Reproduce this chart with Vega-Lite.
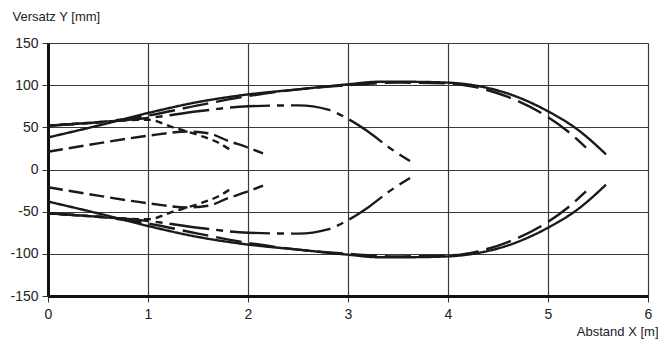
{
  "$schema": "https://vega.github.io/schema/vega-lite/v6.json",
  "width": 600,
  "height": 253,
  "autosize": {"type": "none"},
  "padding": {"left": 48, "top": 43, "right": 10, "bottom": 45},
  "background": "white",
  "config": {
    "view": {"stroke": null},
    "font": "Liberation Sans"
  },
  "data": {
    "values": [
      {"s": "A", "p": "u", "x": 0, "y": 38}, {"s": "A", "p": "u", "x": 0.5, "y": 52}, {"s": "A", "p": "u", "x": 1, "y": 67}, {"s": "A", "p": "u", "x": 1.5, "y": 80}, {"s": "A", "p": "u", "x": 2, "y": 89}, {"s": "A", "p": "u", "x": 2.5, "y": 95}, {"s": "A", "p": "u", "x": 3, "y": 101}, {"s": "A", "p": "u", "x": 3.3, "y": 104}, {"s": "A", "p": "u", "x": 3.6, "y": 104}, {"s": "A", "p": "u", "x": 4, "y": 103}, {"s": "A", "p": "u", "x": 4.3, "y": 99}, {"s": "A", "p": "u", "x": 4.6, "y": 90}, {"s": "A", "p": "u", "x": 5, "y": 69}, {"s": "A", "p": "u", "x": 5.3, "y": 47}, {"s": "A", "p": "u", "x": 5.58, "y": 18},
      {"s": "A", "p": "l", "x": 0, "y": -38}, {"s": "A", "p": "l", "x": 0.5, "y": -52}, {"s": "A", "p": "l", "x": 1, "y": -67}, {"s": "A", "p": "l", "x": 1.5, "y": -80}, {"s": "A", "p": "l", "x": 2, "y": -89}, {"s": "A", "p": "l", "x": 2.5, "y": -95}, {"s": "A", "p": "l", "x": 3, "y": -101}, {"s": "A", "p": "l", "x": 3.3, "y": -104}, {"s": "A", "p": "l", "x": 3.6, "y": -104}, {"s": "A", "p": "l", "x": 4, "y": -103}, {"s": "A", "p": "l", "x": 4.3, "y": -99}, {"s": "A", "p": "l", "x": 4.6, "y": -90}, {"s": "A", "p": "l", "x": 5, "y": -69}, {"s": "A", "p": "l", "x": 5.3, "y": -47}, {"s": "A", "p": "l", "x": 5.58, "y": -18},
      {"s": "B", "p": "u", "x": 0, "y": 52}, {"s": "B", "p": "u", "x": 0.5, "y": 56}, {"s": "B", "p": "u", "x": 1, "y": 64}, {"s": "B", "p": "u", "x": 1.5, "y": 76}, {"s": "B", "p": "u", "x": 2, "y": 87}, {"s": "B", "p": "u", "x": 2.5, "y": 95}, {"s": "B", "p": "u", "x": 3, "y": 100}, {"s": "B", "p": "u", "x": 3.5, "y": 103}, {"s": "B", "p": "u", "x": 4, "y": 102}, {"s": "B", "p": "u", "x": 4.3, "y": 97}, {"s": "B", "p": "u", "x": 4.6, "y": 86}, {"s": "B", "p": "u", "x": 5, "y": 62}, {"s": "B", "p": "u", "x": 5.2, "y": 45}, {"s": "B", "p": "u", "x": 5.38, "y": 26},
      {"s": "B", "p": "l", "x": 0, "y": -52}, {"s": "B", "p": "l", "x": 0.5, "y": -56}, {"s": "B", "p": "l", "x": 1, "y": -64}, {"s": "B", "p": "l", "x": 1.5, "y": -76}, {"s": "B", "p": "l", "x": 2, "y": -87}, {"s": "B", "p": "l", "x": 2.5, "y": -95}, {"s": "B", "p": "l", "x": 3, "y": -100}, {"s": "B", "p": "l", "x": 3.5, "y": -103}, {"s": "B", "p": "l", "x": 4, "y": -102}, {"s": "B", "p": "l", "x": 4.3, "y": -97}, {"s": "B", "p": "l", "x": 4.6, "y": -86}, {"s": "B", "p": "l", "x": 5, "y": -62}, {"s": "B", "p": "l", "x": 5.2, "y": -45}, {"s": "B", "p": "l", "x": 5.38, "y": -26},
      {"s": "C", "p": "u", "x": 0, "y": 52}, {"s": "C", "p": "u", "x": 0.5, "y": 56}, {"s": "C", "p": "u", "x": 1, "y": 61}, {"s": "C", "p": "u", "x": 1.5, "y": 69}, {"s": "C", "p": "u", "x": 2, "y": 75}, {"s": "C", "p": "u", "x": 2.5, "y": 76}, {"s": "C", "p": "u", "x": 2.8, "y": 71}, {"s": "C", "p": "u", "x": 3, "y": 60}, {"s": "C", "p": "u", "x": 3.2, "y": 45}, {"s": "C", "p": "u", "x": 3.4, "y": 27}, {"s": "C", "p": "u", "x": 3.62, "y": 10},
      {"s": "C", "p": "l", "x": 0, "y": -52}, {"s": "C", "p": "l", "x": 0.5, "y": -56}, {"s": "C", "p": "l", "x": 1, "y": -61}, {"s": "C", "p": "l", "x": 1.5, "y": -69}, {"s": "C", "p": "l", "x": 2, "y": -75}, {"s": "C", "p": "l", "x": 2.5, "y": -76}, {"s": "C", "p": "l", "x": 2.8, "y": -71}, {"s": "C", "p": "l", "x": 3, "y": -60}, {"s": "C", "p": "l", "x": 3.2, "y": -45}, {"s": "C", "p": "l", "x": 3.4, "y": -27}, {"s": "C", "p": "l", "x": 3.62, "y": -10},
      {"s": "D", "p": "u", "x": 0, "y": 52}, {"s": "D", "p": "u", "x": 0.5, "y": 56}, {"s": "D", "p": "u", "x": 1, "y": 59}, {"s": "D", "p": "u", "x": 1.25, "y": 50}, {"s": "D", "p": "u", "x": 1.5, "y": 41}, {"s": "D", "p": "u", "x": 1.7, "y": 32}, {"s": "D", "p": "u", "x": 1.84, "y": 22},
      {"s": "D", "p": "l", "x": 0, "y": -52}, {"s": "D", "p": "l", "x": 0.5, "y": -56}, {"s": "D", "p": "l", "x": 1, "y": -59}, {"s": "D", "p": "l", "x": 1.25, "y": -50}, {"s": "D", "p": "l", "x": 1.5, "y": -41}, {"s": "D", "p": "l", "x": 1.7, "y": -32}, {"s": "D", "p": "l", "x": 1.84, "y": -22},
      {"s": "E", "p": "u", "x": 0, "y": 21}, {"s": "E", "p": "u", "x": 0.5, "y": 31}, {"s": "E", "p": "u", "x": 1, "y": 40}, {"s": "E", "p": "u", "x": 1.4, "y": 45}, {"s": "E", "p": "u", "x": 1.6, "y": 43}, {"s": "E", "p": "u", "x": 1.8, "y": 34}, {"s": "E", "p": "u", "x": 2, "y": 26}, {"s": "E", "p": "u", "x": 2.15, "y": 19},
      {"s": "E", "p": "l", "x": 0, "y": -21}, {"s": "E", "p": "l", "x": 0.5, "y": -31}, {"s": "E", "p": "l", "x": 1, "y": -40}, {"s": "E", "p": "l", "x": 1.4, "y": -45}, {"s": "E", "p": "l", "x": 1.6, "y": -43}, {"s": "E", "p": "l", "x": 1.8, "y": -34}, {"s": "E", "p": "l", "x": 2, "y": -26}, {"s": "E", "p": "l", "x": 2.15, "y": -19}
    ]
  },
  "mark": {"type": "line", "interpolate": "monotone", "color": "#1a1a1a", "strokeWidth": 2.4},
  "encoding": {
    "x": {
      "field": "x", "type": "quantitative",
      "scale": {"domain": [0, 6], "nice": false, "zero": false},
      "axis": {
        "values": [0, 1, 2, 3, 4, 5, 6],
        "title": "Abstand X [m]",
        "titleFont": "Liberation Sans", "titleFontSize": 13, "titleFontWeight": "normal", "titleColor": "#222",
        "titleAnchor": null, "titleAlign": "right", "titleBaseline": "alphabetic", "titleX": 610, "titleY": 39,
        "labelFont": "Liberation Sans", "labelFontSize": 14, "labelColor": "#222", "labelPadding": 5, "labelFlush": false,
        "tickSize": 6, "tickColor": "#333", "tickWidth": 1,
        "domainColor": "#111", "domainWidth": 3,
        "grid": true, "gridColor": "#3a3a3a", "gridWidth": 1.2
      }
    },
    "y": {
      "field": "y", "type": "quantitative",
      "scale": {"domain": [-150, 150], "nice": false},
      "axis": {
        "values": [-150, -100, -50, 0, 50, 100, 150],
        "labelExpr": "'' + datum.value",
        "title": "Versatz Y [mm]",
        "titleFont": "Liberation Sans", "titleFontSize": 13, "titleFontWeight": "normal", "titleColor": "#222",
        "titleAngle": 0, "titleAnchor": null, "titleAlign": "left", "titleBaseline": "alphabetic", "titleX": -36, "titleY": -23,
        "labelFont": "Liberation Sans", "labelFontSize": 14, "labelColor": "#222", "labelPadding": 4, "labelFlush": false,
        "tickSize": 6, "tickColor": "#333", "tickWidth": 1,
        "domainColor": "#111", "domainWidth": 3,
        "grid": true, "gridColor": "#3a3a3a", "gridWidth": 1.2
      }
    },
    "detail": {"field": "p", "type": "nominal"},
    "strokeDash": {
      "field": "s", "type": "nominal", "legend": null,
      "scale": {"domain": ["A", "B", "C", "D", "E"], "range": [[1, 0], [26, 8], [40, 7, 7, 7], [7, 5], [15, 6]]}
    }
  }
}
